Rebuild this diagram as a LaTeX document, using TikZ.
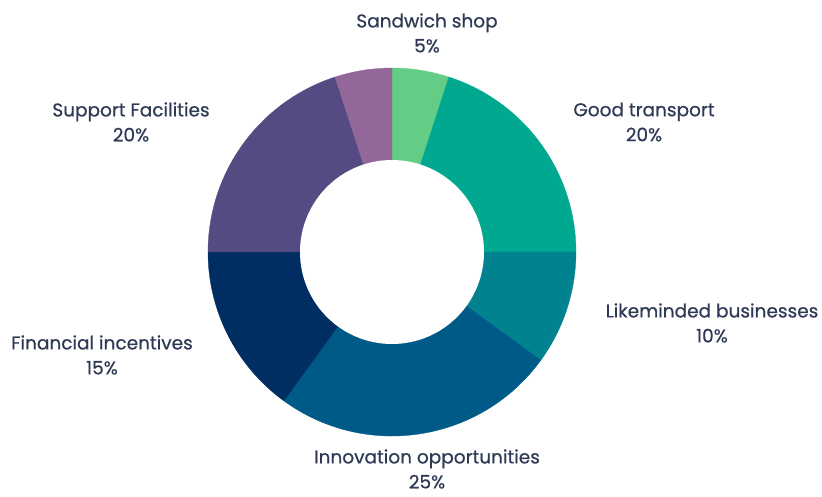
\documentclass[tikz,border=0pt]{standalone}
\usepackage{fontspec}
\setmainfont{Poppins}[FakeBold=0.6]
\definecolor{cSand}{HTML}{64CD85}
\definecolor{cGood}{HTML}{00A88F}
\definecolor{cLike}{HTML}{00828F}
\definecolor{cInno}{HTML}{005A87}
\definecolor{cFin}{HTML}{002D62}
\definecolor{cSup}{HTML}{544B82}
\definecolor{cPur}{HTML}{93679A}
\definecolor{cText}{HTML}{2E3A55}
\begin{document}
\begin{tikzpicture}[x=1pt,y=1pt,
  lbl/.style={text=cText,font=\fontsize{18.5}{25}\selectfont,align=center,inner sep=0pt}]
\useasboundingbox (0,0) rectangle (822,496);
\coordinate (c) at (392,244);
\foreach \a/\b/\col in {72/90/cSand,0/72/cGood,-36/0/cLike,-126/-36/cInno,-180/-126/cFin,108/180/cSup,90/108/cPur}{
  \fill[\col,draw=\col,line width=0.3pt] (c) -- ++(\a:184) arc[start angle=\a,end angle=\b,radius=184] -- cycle;
}
\fill[white] (c) circle (92);
\node[lbl] (sand) at (427,463) {Sandwich shop\\5\%};
\node[lbl] (sup) at (131,374) {Support Facilities\\20\%};
\node[lbl] (good) at (644,374) {Good transport\\20\%};
\node[lbl] (like) at (712,173) {Likeminded businesses\\10\%};
\node[lbl] (fin) at (102,141) {Financial incentives\\15\%};
\node[lbl] (inno) at (427,27) {Innovation opportunities\\25\%};
\end{tikzpicture}
\end{document}
